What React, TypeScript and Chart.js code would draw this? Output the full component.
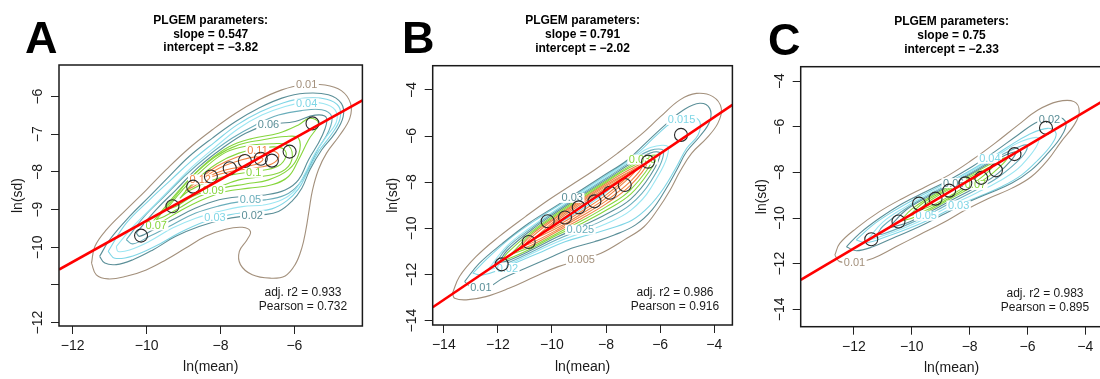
import React, { useEffect, useRef } from "react";
import { Chart, registerables } from "chart.js";
Chart.register(...registerables);

type Pt = [number, number];
const FONT = "'Liberation Sans', Arial, Helvetica, sans-serif";

const BROWN = "#a3907c";
const TEAL_DARK = "#5b8f98";
const TEAL = "#6aaebb";
const CYAN = "#7fd6e6";
const CYAN_LIGHT = "#9be6f2";
const GREEN = "#86d63c";
const ORANGE = "#ef8344";

// ---------------- Panel A ----------------
const A_X_TICKS = [-12, -10, -8, -6];
const A_X_LABELS = ["−12", "−10", "−8", "−6"];
const A_Y_TICKS = [-12, -11, -10, -9, -8, -7, -6];
const A_Y_LABELS = ["−12", "", "−10", "−9", "−8", "−7", "−6"];
const A_MEAN_X = [-10.15, -9.3, -8.74, -8.26, -7.75, -7.34, -6.91, -6.61, -6.13, -5.51];
const A_MEAN_Y = [-9.69, -8.91, -8.39, -8.12, -7.9, -7.71, -7.65, -7.7, -7.46, -6.71];
const A_FIT: Pt[] = [[-12.37, -10.59], [-4.16, -6.1]];
const A_C01: Pt[] = [[-11.49,-10.42],[-11.4,-9.98],[-11.09,-9.54],[-10.55,-9.0],[-10.01,-8.48],[-9.47,-7.94],[-8.85,-7.37],[-8.22,-6.88],[-7.59,-6.44],[-6.97,-6.09],[-6.34,-5.82],[-5.8,-5.69],[-5.17,-5.69],[-4.73,-5.84],[-4.48,-6.18],[-4.5,-6.57],[-4.77,-7.02],[-5.13,-7.5],[-5.35,-7.94],[-5.51,-8.48],[-5.6,-9.0],[-5.69,-9.54],[-5.8,-10.02],[-5.98,-10.46],[-6.25,-10.76],[-6.65,-10.82],[-7.14,-10.73],[-7.46,-10.46],[-7.49,-10.11],[-7.28,-9.8],[-7.19,-9.58],[-7.41,-9.47],[-7.86,-9.52],[-8.4,-9.71],[-8.94,-10.02],[-9.47,-10.33],[-10.01,-10.6],[-10.55,-10.77],[-11.04,-10.84],[-11.36,-10.73]];
const A_C02: Pt[] = [[-11.27,-10.24],[-11.0,-9.8],[-10.46,-9.18],[-9.92,-8.65],[-9.39,-8.12],[-8.85,-7.59],[-8.22,-7.1],[-7.59,-6.66],[-6.97,-6.31],[-6.34,-6.04],[-5.71,-5.91],[-5.08,-5.95],[-4.73,-6.18],[-4.68,-6.53],[-4.9,-6.97],[-5.26,-7.41],[-5.58,-7.94],[-5.8,-8.43],[-6.07,-8.78],[-6.43,-9.05],[-6.88,-9.14],[-7.41,-9.18],[-7.95,-9.27],[-8.58,-9.45],[-9.21,-9.71],[-9.83,-10.07],[-10.37,-10.33],[-10.82,-10.46],[-11.13,-10.42]];
const A_C03: Pt[] = [[-11.04,-10.11],[-10.55,-9.36],[-9.92,-8.74],[-9.34,-8.21],[-8.8,-7.72],[-8.17,-7.22],[-7.55,-6.75],[-6.92,-6.4],[-6.29,-6.16],[-5.71,-6.04],[-5.13,-6.07],[-4.8,-6.26],[-4.77,-6.6],[-5.01,-7.02],[-5.35,-7.46],[-5.64,-7.99],[-5.89,-8.45],[-6.2,-8.76],[-6.61,-8.98],[-7.14,-9.05],[-7.77,-9.14],[-8.4,-9.31],[-9.12,-9.62],[-9.74,-9.96],[-10.37,-10.23],[-10.86,-10.29]];
const A_C04: Pt[] = [[-10.82,-9.98],[-10.37,-9.45],[-9.83,-8.92],[-9.3,-8.39],[-8.76,-7.86],[-8.13,-7.33],[-7.5,-6.84],[-6.88,-6.49],[-6.25,-6.26],[-5.71,-6.16],[-5.22,-6.18],[-4.9,-6.35],[-4.86,-6.66],[-5.13,-7.06],[-5.44,-7.5],[-5.71,-8.03],[-5.98,-8.48],[-6.34,-8.74],[-6.79,-8.87],[-7.41,-8.92],[-8.04,-9.05],[-8.67,-9.23],[-9.3,-9.49],[-9.92,-9.84],[-10.46,-10.07],[-10.77,-10.11]];
const A_C05: Pt[] = [[-10.55,-9.8],[-10.06,-9.18],[-9.52,-8.65],[-8.94,-8.08],[-8.31,-7.55],[-7.68,-7.1],[-7.05,-6.75],[-6.43,-6.49],[-5.8,-6.37],[-5.26,-6.35],[-4.99,-6.53],[-5.08,-6.93],[-5.35,-7.37],[-5.62,-7.9],[-5.89,-8.34],[-6.25,-8.61],[-6.79,-8.74],[-7.41,-8.78],[-8.04,-8.9],[-8.67,-9.09],[-9.3,-9.4],[-9.92,-9.71],[-10.37,-9.91]];
const A_C06: Pt[] = [[-10.28,-9.62],[-9.74,-9.0],[-9.21,-8.48],[-8.58,-7.86],[-7.95,-7.37],[-7.32,-6.97],[-6.7,-6.75],[-5.98,-6.66],[-5.44,-6.49],[-5.13,-6.57],[-5.26,-7.06],[-5.62,-7.68],[-5.89,-8.21],[-6.25,-8.48],[-6.79,-8.61],[-7.41,-8.65],[-8.04,-8.74],[-8.67,-8.96],[-9.3,-9.27],[-9.83,-9.54],[-10.19,-9.71]];
const A_C07: Pt[] = [[-10.01,-9.54],[-9.56,-9.0],[-9.03,-8.39],[-8.4,-7.77],[-7.77,-7.33],[-7.14,-7.11],[-6.43,-6.97],[-5.89,-6.75],[-5.58,-6.57],[-5.35,-6.71],[-5.62,-7.15],[-5.89,-7.68],[-6.16,-8.12],[-6.61,-8.34],[-7.23,-8.43],[-7.86,-8.52],[-8.49,-8.74],[-9.12,-9.05],[-9.65,-9.36]];
const A_C08: Pt[] = [[-9.74,-9.27],[-9.3,-8.74],[-8.76,-8.12],[-8.13,-7.59],[-7.5,-7.28],[-6.88,-7.15],[-6.25,-7.06],[-5.89,-7.1],[-5.89,-7.55],[-6.16,-7.94],[-6.7,-8.21],[-7.32,-8.32],[-7.95,-8.43],[-8.58,-8.65],[-9.12,-8.96],[-9.52,-9.18]];
const A_C09: Pt[] = [[-9.47,-9.0],[-9.03,-8.48],[-8.49,-7.95],[-7.86,-7.48],[-7.23,-7.3],[-6.61,-7.25],[-6.16,-7.3],[-6.07,-7.68],[-6.34,-7.99],[-6.88,-8.12],[-7.5,-8.21],[-8.13,-8.43],[-8.76,-8.65],[-9.21,-8.92]];
const A_C10: Pt[] = [[-9.1,-8.7],[-8.7,-8.25],[-8.1,-7.78],[-7.5,-7.5],[-6.88,-7.36],[-6.35,-7.36],[-6.22,-7.55],[-6.45,-7.85],[-7.05,-7.98],[-7.68,-8.07],[-8.31,-8.25],[-8.85,-8.5]];
const A_C11: Pt[] = [[-8.95,-8.5],[-8.6,-8.22],[-8.1,-7.85],[-7.55,-7.6],[-6.95,-7.45],[-6.55,-7.45],[-6.42,-7.58],[-6.6,-7.78],[-7.1,-7.9],[-7.7,-7.98],[-8.3,-8.15],[-8.75,-8.4]];
const A_C12: Pt[] = [[-8.7,-8.32],[-8.45,-8.15],[-8.0,-7.88],[-7.5,-7.7],[-7.05,-7.6],[-6.85,-7.66],[-7.05,-7.8],[-7.55,-7.88],[-8.1,-8.02],[-8.55,-8.25]];
const A_LABEL_TEXT = ["0.01", "0.04", "0.06", "0.11", "0.1", "0.05", "0.02", "0.03", "0.07", "0.12", "0.09"];
const A_LABEL_X = [-5.67, -5.67, -6.7, -7.0, -7.1, -7.19, -7.14, -8.15, -9.74, -8.55, -8.2];
const A_LABEL_Y = [-5.69, -6.18, -6.75, -7.42, -8.02, -8.74, -9.15, -9.2, -9.42, -8.2, -8.48];
const A_LABEL_COLOR = [BROWN, CYAN, TEAL_DARK, ORANGE, GREEN, TEAL, TEAL_DARK, CYAN, GREEN, ORANGE, GREEN];

// ---------------- Panel B ----------------
const B_X_TICKS = [-14, -12, -10, -8, -6, -4];
const B_X_LABELS = ["−14", "−12", "−10", "−8", "−6", "−4"];
const B_Y_TICKS = [-14, -12, -10, -8, -6, -4];
const B_Y_LABELS = ["−14", "−12", "−10", "−8", "−6", "−4"];
const B_MEAN_X = [-11.86, -10.86, -10.16, -9.52, -9.01, -8.43, -7.86, -7.31, -6.45, -5.23];
const B_MEAN_Y = [-11.56, -10.59, -9.69, -9.53, -9.09, -8.83, -8.46, -8.12, -7.11, -5.95];
const B_FIT: Pt[] = [[-14.41, -13.42], [-3.33, -4.65]];
const B_C01: Pt[] = [[-13.68,-12.82],[-13.42,-12.09],[-12.81,-11.23],[-11.96,-10.36],[-10.98,-9.49],[-10.13,-8.77],[-9.28,-8.12],[-8.43,-7.47],[-7.58,-6.75],[-6.72,-5.95],[-5.99,-5.16],[-5.27,-4.43],[-4.66,-4.15],[-4.05,-4.29],[-3.74,-4.8],[-3.87,-5.45],[-4.29,-6.1],[-4.84,-6.75],[-5.27,-7.54],[-5.63,-8.34],[-6.06,-9.13],[-6.6,-9.93],[-7.33,-10.5],[-8.19,-11.08],[-8.92,-11.37],[-9.77,-11.66],[-10.62,-12.09],[-11.59,-12.6],[-12.44,-12.96],[-13.17,-13.1],[-13.6,-13.03]];
const B_C02: Pt[] = [[-13.23,-12.31],[-12.69,-11.52],[-11.83,-10.65],[-10.86,-9.78],[-9.89,-9.06],[-8.92,-8.34],[-8.06,-7.69],[-7.21,-7.04],[-6.48,-6.24],[-5.75,-5.45],[-5.14,-4.87],[-4.54,-4.58],[-4.17,-4.8],[-4.17,-5.37],[-4.54,-6.02],[-5.02,-6.67],[-5.39,-7.47],[-5.81,-8.34],[-6.3,-9.2],[-6.91,-9.85],[-7.7,-10.29],[-8.43,-10.58],[-9.28,-10.86],[-10.13,-11.3],[-10.98,-11.73],[-11.83,-12.17],[-12.32,-12.53],[-12.87,-12.64]];
const B_C03: Pt[] = [[-12.93,-11.95],[-12.32,-11.23],[-11.47,-10.36],[-10.5,-9.56],[-9.52,-8.84],[-8.55,-8.12],[-7.7,-7.47],[-6.85,-6.75],[-6.12,-5.95],[-5.51,-5.37],[-4.9,-5.16],[-4.54,-5.37],[-4.6,-5.95],[-5.02,-6.53],[-5.39,-7.32],[-5.87,-8.26],[-6.42,-9.06],[-7.03,-9.64],[-7.82,-10.0],[-8.67,-10.29],[-9.52,-10.58],[-10.37,-11.01],[-11.23,-11.44],[-11.96,-11.8],[-12.56,-12.02]];
const B_C04: Pt[] = [[-12.38,-11.81],[-11.65,-10.75],[-10.74,-9.91],[-9.83,-9.17],[-8.92,-8.47],[-8.0,-7.77],[-7.09,-7.05],[-6.36,-6.5],[-5.69,-6.52],[-6.36,-8.28],[-7.09,-9.22],[-8.0,-9.8],[-8.92,-10.2],[-9.83,-10.6],[-10.74,-11.09],[-11.65,-11.58]];
const B_C05: Pt[] = [[-12.14,-11.62],[-11.65,-10.83],[-10.74,-9.98],[-9.83,-9.23],[-8.92,-8.52],[-8.0,-7.83],[-7.09,-7.12],[-6.36,-6.62],[-5.87,-6.67],[-6.36,-7.99],[-7.09,-8.96],[-8.0,-9.59],[-8.92,-10.06],[-9.83,-10.49],[-10.74,-11.01],[-11.65,-11.5]];
const B_C06: Pt[] = [[-11.96,-11.48],[-11.65,-10.95],[-10.74,-10.05],[-9.83,-9.29],[-8.92,-8.58],[-8.0,-7.89],[-7.09,-7.19],[-6.36,-6.73],[-6.0,-6.76],[-6.36,-7.7],[-7.09,-8.73],[-8.0,-9.39],[-8.92,-9.91],[-9.83,-10.39],[-10.74,-10.93],[-11.65,-11.41]];
const B_C07: Pt[] = [[-11.84,-11.38],[-11.65,-11.06],[-10.74,-10.13],[-9.83,-9.36],[-8.92,-8.64],[-8.0,-7.95],[-7.09,-7.27],[-6.36,-6.85],[-6.12,-6.86],[-6.36,-7.46],[-7.09,-8.52],[-8.0,-9.22],[-8.92,-9.8],[-9.83,-10.3],[-10.74,-10.86],[-11.65,-11.34]];
const B_C08: Pt[] = [[-11.53,-11.14],[-10.74,-10.2],[-9.83,-9.42],[-8.92,-8.7],[-8.0,-8.0],[-7.09,-7.34],[-6.3,-7.0],[-7.09,-8.32],[-8.0,-9.07],[-8.92,-9.68],[-9.83,-10.23],[-10.74,-10.79]];
const B_C09: Pt[] = [[-11.29,-10.95],[-10.74,-10.27],[-9.83,-9.48],[-8.92,-8.75],[-8.0,-8.06],[-7.09,-7.43],[-6.48,-7.15],[-7.09,-8.13],[-8.0,-8.94],[-8.92,-9.58],[-9.83,-10.15],[-10.74,-10.72]];
const B_C10: Pt[] = [[-11.04,-10.76],[-10.74,-10.37],[-9.83,-9.53],[-8.92,-8.81],[-8.0,-8.12],[-7.09,-7.51],[-6.66,-7.29],[-7.09,-7.95],[-8.0,-8.81],[-8.92,-9.48],[-9.83,-10.08],[-10.74,-10.63]];
const B_C11: Pt[] = [[-10.68,-10.47],[-9.83,-9.61],[-8.92,-8.87],[-8.0,-8.18],[-6.91,-7.48],[-8.0,-8.68],[-8.92,-9.38],[-9.83,-10.0]];
const B_C12: Pt[] = [[-10.31,-10.18],[-9.83,-9.68],[-8.92,-8.94],[-8.0,-8.25],[-7.21,-7.73],[-8.0,-8.55],[-8.92,-9.27],[-9.83,-9.91]];
const B_C13: Pt[] = [[-9.89,-9.84],[-9.4,-9.41],[-8.43,-8.63],[-7.7,-8.11],[-8.43,-8.8],[-9.4,-9.54]];
const B_LABEL_TEXT = ["0.015", "0.005", "0.01", "0.02", "0.025", "0.03", "0.035"];
const B_LABEL_X = [-5.21, -8.92, -12.63, -11.65, -8.95, -9.25, -6.65];
const B_LABEL_Y = [-5.3, -11.37, -12.58, -11.72, -10.06, -8.68, -7.02];
const B_LABEL_COLOR = [CYAN, BROWN, TEAL_DARK, CYAN, TEAL, TEAL_DARK, GREEN];

// ---------------- Panel C ----------------
const C_X_TICKS = [-12, -10, -8, -6, -4];
const C_X_LABELS = ["−12", "−10", "−8", "−6", "−4"];
const C_Y_TICKS = [-14, -12, -10, -8, -6, -4];
const C_Y_LABELS = ["−14", "−12", "−10", "−8", "−6", "−4"];
const C_MEAN_X = [-11.4, -10.46, -9.75, -9.18, -8.71, -8.15, -7.6, -7.09, -6.45, -5.36];
const C_MEAN_Y = [-10.93, -10.15, -9.37, -9.15, -8.8, -8.48, -8.24, -7.91, -7.2, -6.05];
const C_FIT: Pt[] = [[-13.84, -12.71], [-3.41, -4.89]];
const C_C01: Pt[] = [[-12.66,-11.62],[-12.49,-11.11],[-11.92,-10.45],[-11.12,-9.72],[-10.32,-9.14],[-9.52,-8.63],[-8.72,-8.12],[-7.92,-7.46],[-7.13,-6.73],[-6.33,-5.93],[-5.64,-5.27],[-4.96,-4.9],[-4.39,-4.9],[-4.21,-5.34],[-4.39,-5.93],[-4.84,-6.66],[-5.3,-7.46],[-5.87,-8.19],[-6.55,-8.7],[-7.35,-9.14],[-8.15,-9.65],[-8.95,-10.23],[-9.75,-10.74],[-10.55,-11.26],[-11.35,-11.77],[-11.92,-11.94],[-12.49,-11.91]];
const C_C02: Pt[] = [[-12.26,-11.26],[-11.8,-10.67],[-11.12,-10.01],[-10.32,-9.36],[-9.52,-8.85],[-8.72,-8.34],[-7.92,-7.75],[-7.13,-7.09],[-6.33,-6.36],[-5.64,-5.78],[-4.96,-5.56],[-4.67,-5.85],[-4.84,-6.44],[-5.3,-7.17],[-5.87,-7.9],[-6.55,-8.48],[-7.35,-8.92],[-8.15,-9.36],[-8.95,-9.87],[-9.75,-10.38],[-10.55,-10.82],[-11.35,-11.26],[-11.92,-11.43]];
const C_C03: Pt[] = [[-11.92,-10.96],[-11.35,-10.31],[-10.66,-9.72],[-9.86,-9.14],[-9.07,-8.63],[-8.27,-8.12],[-7.47,-7.53],[-6.67,-6.88],[-5.98,-6.36],[-5.3,-6.07],[-5.01,-6.29],[-5.18,-6.8],[-5.64,-7.46],[-6.21,-8.12],[-6.9,-8.63],[-7.7,-9.07],[-8.5,-9.5],[-9.29,-10.01],[-10.09,-10.45],[-10.89,-10.82],[-11.58,-11.08]];
const C_C04: Pt[] = [[-11.55,-10.99],[-11.0,-10.18],[-10.2,-9.5],[-9.4,-8.92],[-8.6,-8.4],[-7.8,-7.84],[-7.0,-7.22],[-6.2,-6.64],[-5.6,-6.53],[-6.2,-7.68],[-7.0,-8.4],[-7.8,-8.92],[-8.6,-9.42],[-9.4,-9.94],[-10.2,-10.4],[-11.0,-10.78]];
const C_C05: Pt[] = [[-11.2,-10.73],[-11.0,-10.36],[-10.2,-9.58],[-9.4,-8.98],[-8.6,-8.45],[-7.8,-7.9],[-7.0,-7.3],[-6.2,-6.83],[-6.0,-6.83],[-6.2,-7.33],[-7.0,-8.2],[-7.8,-8.78],[-8.6,-9.3],[-9.4,-9.84],[-10.2,-10.31],[-11.0,-10.7]];
const C_C06: Pt[] = [[-10.8,-10.43],[-10.2,-9.65],[-9.4,-9.04],[-8.6,-8.5],[-7.8,-7.95],[-7.0,-7.38],[-6.4,-7.13],[-7.0,-8.02],[-7.8,-8.66],[-8.6,-9.2],[-9.4,-9.75],[-10.2,-10.23]];
const C_C07: Pt[] = [[-10.4,-10.13],[-10.0,-9.61],[-9.4,-9.1],[-8.6,-8.55],[-7.8,-8.0],[-7.2,-7.59],[-6.7,-7.36],[-7.2,-8.03],[-7.8,-8.55],[-8.6,-9.11],[-9.4,-9.67],[-10.0,-10.01]];
const C_C08: Pt[] = [[-10.1,-9.91],[-9.6,-9.33],[-8.9,-8.82],[-8.2,-8.34],[-7.6,-7.95],[-7.2,-7.73],[-7.6,-8.23],[-8.2,-8.75],[-8.9,-9.26],[-9.6,-9.71]];
const C_C09: Pt[] = [[-9.8,-9.68],[-9.3,-9.18],[-8.6,-8.67],[-8.1,-8.35],[-7.7,-8.11],[-8.1,-8.56],[-8.6,-8.97],[-9.3,-9.45]];
const C_LABEL_TEXT = ["0.01", "0.02", "0.04", "0.06", "0.05", "0.03", "0.07"];
const C_LABEL_X = [-11.98, -5.24, -7.3, -8.55, -9.5, -8.38, -7.8];
const C_LABEL_Y = [-11.93, -5.68, -7.4, -8.47, -9.9, -9.45, -8.55];
const C_LABEL_COLOR = [BROWN, TEAL_DARK, CYAN, TEAL_DARK, CYAN, CYAN, GREEN];

type Ring = { level: string; color: string; pts: Pt[] };

const PANELS = [
  {
    left: 0,
    letter: "A", letterX: 25, letterY: 53,
    title: ["PLGEM parameters:", "slope = 0.547", "intercept = −3.82"], titleY: [21, 34.5, 48],
    stats: ["adj. r2 = 0.933", "Pearson = 0.732"], statsX: 303, statsY: [293, 307],
    area: { l: 59, r: 364, t: 65, b: 326 },
    xRange: [-12.37, -4.16], yRange: [-12.09, -5.16],
    xTicks: A_X_TICKS, xLabels: A_X_LABELS, yTicks: A_Y_TICKS, yLabels: A_Y_LABELS,
    meanX: A_MEAN_X, meanY: A_MEAN_Y, fit: A_FIT,
    yTitlePad: 9.6, xTitlePad: 3.1,
    rings: [
      { level: "0.01", color: BROWN, pts: A_C01 }, { level: "0.02", color: TEAL_DARK, pts: A_C02 },
      { level: "0.03", color: CYAN, pts: A_C03 }, { level: "0.04", color: CYAN_LIGHT, pts: A_C04 },
      { level: "0.05", color: TEAL, pts: A_C05 }, { level: "0.06", color: TEAL_DARK, pts: A_C06 },
      { level: "0.07", color: GREEN, pts: A_C07 }, { level: "0.08", color: GREEN, pts: A_C08 },
      { level: "0.09", color: GREEN, pts: A_C09 }, { level: "0.10", color: GREEN, pts: A_C10 },
      { level: "0.11", color: ORANGE, pts: A_C11 }, { level: "0.12", color: ORANGE, pts: A_C12 },
    ] as Ring[],
    labText: A_LABEL_TEXT, labX: A_LABEL_X, labY: A_LABEL_Y, labColor: A_LABEL_COLOR,
  },
  {
    left: 370,
    letter: "B", letterX: 32, letterY: 53,
    title: ["PLGEM parameters:", "slope = 0.791", "intercept = −2.02"], titleY: [21, 35, 49],
    stats: ["adj. r2 = 0.986", "Pearson = 0.916"], statsX: 305, statsY: [293, 307],
    area: { l: 62.7, r: 366.7, t: 65.7, b: 325 },
    xRange: [-14.41, -3.33], yRange: [-14.19, -2.95],
    xTicks: B_X_TICKS, xLabels: B_X_LABELS, yTicks: B_Y_TICKS, yLabels: B_Y_LABELS,
    meanX: B_MEAN_X, meanY: B_MEAN_Y, fit: B_FIT,
    yTitlePad: 14.6, xTitlePad: 3.9,
    rings: [
      { level: "0.005", color: BROWN, pts: B_C01 }, { level: "0.01", color: TEAL_DARK, pts: B_C02 },
      { level: "0.015", color: CYAN, pts: B_C03 }, { level: "0.02", color: CYAN_LIGHT, pts: B_C04 },
      { level: "0.025", color: TEAL, pts: B_C05 }, { level: "0.03", color: TEAL_DARK, pts: B_C06 },
      { level: "0.035", color: GREEN, pts: B_C07 }, { level: "0.04", color: GREEN, pts: B_C08 },
      { level: "0.045", color: ORANGE, pts: B_C09 }, { level: "0.05", color: ORANGE, pts: B_C10 },
      { level: "0.055", color: ORANGE, pts: B_C11 }, { level: "0.06", color: ORANGE, pts: B_C12 },
      { level: "0.065", color: CYAN, pts: B_C13 },
    ] as Ring[],
    labText: B_LABEL_TEXT, labX: B_LABEL_X, labY: B_LABEL_Y, labColor: B_LABEL_COLOR,
  },
  {
    left: 740,
    letter: "C", letterX: 28, letterY: 55,
    title: ["PLGEM parameters:", "slope = 0.75", "intercept = −2.33"], titleY: [22, 35.5, 49.5],
    stats: ["adj. r2 = 0.983", "Pearson = 0.895"], statsX: 305, statsY: [294, 308],
    area: { l: 60.7, r: 365, t: 66.7, b: 326.7 },
    xRange: [-13.84, -3.41], yRange: [-14.76, -3.37],
    xTicks: C_X_TICKS, xLabels: C_X_LABELS, yTicks: C_Y_TICKS, yLabels: C_Y_LABELS,
    meanX: C_MEAN_X, meanY: C_MEAN_Y, fit: C_FIT,
    yTitlePad: 13.6, xTitlePad: 2.3,
    rings: [
      { level: "0.01", color: BROWN, pts: C_C01 }, { level: "0.02", color: TEAL_DARK, pts: C_C02 },
      { level: "0.03", color: CYAN, pts: C_C03 }, { level: "0.04", color: CYAN_LIGHT, pts: C_C04 },
      { level: "0.05", color: TEAL, pts: C_C05 }, { level: "0.06", color: TEAL_DARK, pts: C_C06 },
      { level: "0.07", color: GREEN, pts: C_C07 }, { level: "0.08", color: GREEN, pts: C_C08 },
      { level: "0.09", color: GREEN, pts: C_C09 },
    ] as Ring[],
    labText: C_LABEL_TEXT, labX: C_LABEL_X, labY: C_LABEL_Y, labColor: C_LABEL_COLOR,
  },
];

const W = 370;
const H = 379;

function Panel({ spec }: { spec: any }) {
  const ref = useRef<HTMLCanvasElement>(null);
  useEffect(() => {
    const canvas = ref.current!;
    const ringSets = spec.rings.map((r: Ring) => ({
      label: "contour " + r.level,
      data: [...r.pts, r.pts[0]].map(([x, y]) => ({ x, y })),
      showLine: true,
      borderColor: r.color,
      borderWidth: 1.1,
      pointRadius: 0,
      tension: 0.4,
      fill: false,
      order: 2,
    }));
    const decor = {
      id: "decor" + spec.letter,
      beforeDatasetDraw(chart: any, args: any) {
        if (chart.data.datasets[args.index].label !== "means") return;
        const ctx = chart.ctx;
        const xs = chart.scales.x;
        const ys = chart.scales.y;
        ctx.save();
        ctx.font = `11px ${FONT}`;
        ctx.textAlign = "center";
        ctx.textBaseline = "middle";
        spec.labText.forEach((t: string, i: number) => {
          const px = xs.getPixelForValue(spec.labX[i]);
          const py = ys.getPixelForValue(spec.labY[i]);
          const w = ctx.measureText(t).width;
          ctx.fillStyle = "#ffffff";
          ctx.fillRect(px - w / 2 - 1.5, py - 5, w + 3, 10);
          ctx.fillStyle = spec.labColor[i];
          ctx.fillText(t, px, py + 0.5);
        });
        ctx.restore();
      },
      afterDraw(chart: any) {
        const ctx = chart.ctx;
        const a = chart.chartArea;
        ctx.save();
        ctx.strokeStyle = "#1a1a1a";
        ctx.lineWidth = 1.5;
        ctx.strokeRect(a.left, a.top, a.right - a.left, a.bottom - a.top);
        ctx.fillStyle = "#000";
        ctx.font = `bold 45px ${FONT}`;
        ctx.textAlign = "left";
        ctx.textBaseline = "alphabetic";
        ctx.fillText(spec.letter, spec.letterX, spec.letterY);
        ctx.font = `bold 12px ${FONT}`;
        ctx.textAlign = "center";
        ctx.textBaseline = "middle";
        const cx = (a.left + a.right) / 2;
        spec.title.forEach((t: string, i: number) => ctx.fillText(t, cx, spec.titleY[i]));
        ctx.fillStyle = "#1a1a1a";
        ctx.font = `12px ${FONT}`;
        spec.stats.forEach((t: string, i: number) => ctx.fillText(t, spec.statsX, spec.statsY[i]));
        ctx.restore();
      },
    };
    const tickFont = { family: FONT, size: 14 };
    const chart = new Chart(canvas, {
      type: "scatter",
      data: {
        datasets: [
          {
            label: "fit",
            data: spec.fit.map(([x, y]: Pt) => ({ x, y })),
            showLine: true,
            borderColor: "#ff0000",
            borderWidth: 2.6,
            pointRadius: 0,
            order: 0,
          },
          {
            label: "means",
            data: spec.meanX.map((x: number, i: number) => ({ x, y: spec.meanY[i] })),
            showLine: false,
            pointRadius: 6.5,
            pointBorderColor: "#2a2a2a",
            pointBorderWidth: 1.1,
            pointBackgroundColor: "rgba(0,0,0,0)",
            order: 1,
          },
          ...ringSets,
        ],
      } as any,
      options: {
        responsive: false,
        animation: false,
        devicePixelRatio: 1,
        events: [],
        layout: { padding: { left: 0, right: W - spec.area.r, top: spec.area.t, bottom: 0 } },
        plugins: { legend: { display: false }, tooltip: { enabled: false }, title: { display: false } },
        scales: {
          x: {
            type: "linear",
            min: spec.xRange[0],
            max: spec.xRange[1],
            afterBuildTicks: (s: any) => { s.ticks = spec.xTicks.map((v: number) => ({ value: v })); },
            afterFit: (s: any) => { s.height = H - spec.area.b; },
            ticks: {
              autoSkip: false, maxRotation: 0, minRotation: 0, padding: 4,
              font: tickFont, color: "#1a1a1a",
              callback: (_v: any, i: number) => spec.xLabels[i],
            },
            grid: { display: true, drawOnChartArea: false, drawTicks: true, tickLength: 8, color: "#222", lineWidth: 1 },
            border: { display: false },
            title: { display: true, text: "ln(mean)", font: tickFont, color: "#1a1a1a", padding: { top: 0, bottom: spec.xTitlePad } },
          },
          y: {
            type: "linear",
            min: spec.yRange[0],
            max: spec.yRange[1],
            afterBuildTicks: (s: any) => { s.ticks = spec.yTicks.map((v: number) => ({ value: v })); },
            afterFit: (s: any) => { s.width = spec.area.l; },
            ticks: {
              autoSkip: false, minRotation: 90, maxRotation: 90, crossAlign: "center", padding: 1,
              font: tickFont, color: "#1a1a1a",
              callback: (_v: any, i: number) => spec.yLabels[i],
            },
            grid: { display: true, drawOnChartArea: false, drawTicks: true, tickLength: 8, color: "#222", lineWidth: 1 },
            border: { display: false },
            title: { display: true, text: "ln(sd)", font: tickFont, color: "#1a1a1a", padding: { top: spec.yTitlePad, bottom: 0 } },
          },
        },
      } as any,
      plugins: [decor],
    });
    return () => chart.destroy();
  }, []);
  return (
    <canvas
      ref={ref}
      width={W}
      height={H}
      style={{ position: "absolute", left: spec.left, top: 0, width: W, height: H }}
    />
  );
}

export default function App() {
  return (
    <div style={{ position: "fixed", left: 0, top: 0, width: 1100, height: 379, overflow: "hidden", background: "#ffffff" }}>
      {PANELS.map((p) => (
        <Panel key={p.letter} spec={p} />
      ))}
    </div>
  );
}
